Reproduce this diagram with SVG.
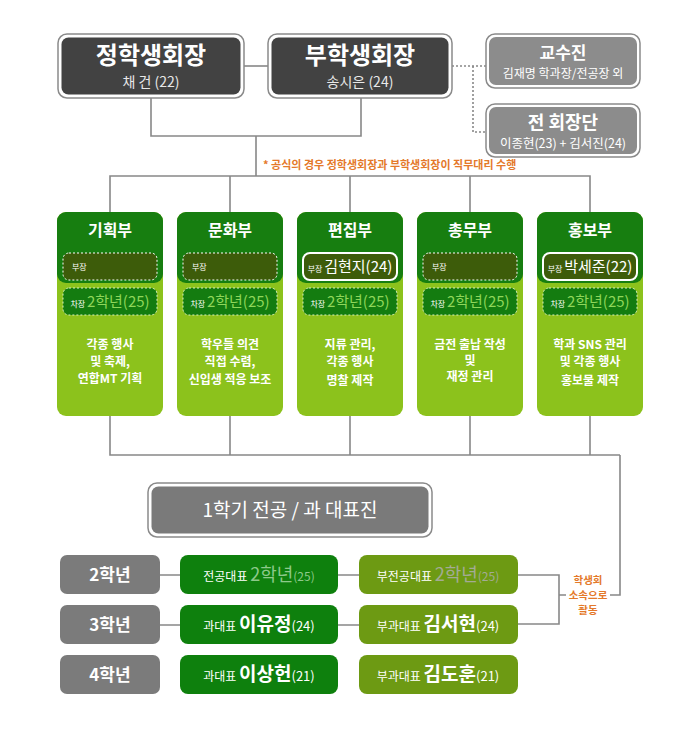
<svg xmlns="http://www.w3.org/2000/svg" width="698" height="754" viewBox="0 0 698 754">
<style>
text{font-family:"Noto Sans CJK KR","Noto Sans",sans-serif;fill:#fff}
.ln{fill:none;stroke:#888;stroke-width:1.6}
.dot{fill:none;stroke:#888;stroke-width:1.6;stroke-dasharray:2 2}
.frame{fill:#fff;stroke:#8a8a8a;stroke-width:1.5}
.dark{fill:#424242}
.grey{fill:#8c8c8c}
.card{fill:#8cc21c}
.head{fill:#177e10}
.bj{fill:#3d5c0a;stroke:#fff;stroke-width:1;stroke-dasharray:2 2}
.bjs{fill:#3d5c0a;stroke:#fff;stroke-width:2}
.cj{fill:#147c10;stroke:#d8f0c0;stroke-width:1;stroke-dasharray:2 2}
.t{font-size:16px;font-weight:700;text-anchor:middle}
.d{font-size:12px;font-weight:700;text-anchor:middle}
.sm{font-size:8px}
.cjv{font-size:15px;fill:#8fd65a}
.or{fill:#e4792a;font-weight:700}
.gr{fill:#7b7b7b}
.g1{fill:#0e800d}
.g2{fill:#6d9a13}
</style>
<g id="connectors">
<path class="ln" d="M244,66H268"/>
<path class="dot" d="M452,66H486M473,66V132H486"/>
<path class="ln" d="M151,98V136H361V98M256,136V176M110,212V176H590V212M230,176V212M350,176V212M470,176V212"/>
<path class="ln" d="M110,416V455H620M230,416V455M350,416V455M470,416V455M590,416V455M620,455V595H610"/>
<path class="ln" d="M160,575H180M338,575H359M160,625H180M338,625H359"/>
<path class="ln" d="M518,575H559V624H518M559,595H566"/>
</g>
<g id="president">
<rect class="frame" x="58" y="34" width="186" height="64" rx="9"/>
<rect class="dark" x="61.5" y="37.5" width="179" height="57" rx="7"/>
<text x="151" y="64" style="font-size:24px;font-weight:700;text-anchor:middle">정학생회장</text>
<text x="151" y="87" style="font-size:14px;text-anchor:middle;fill:#e8e8e8">채 건 (22)</text>
</g>
<g id="vice-president">
<rect class="frame" x="268" y="34" width="184" height="64" rx="9"/>
<rect class="dark" x="271.5" y="37.5" width="177" height="57" rx="7"/>
<text x="360" y="64" style="font-size:24px;font-weight:700;text-anchor:middle">부학생회장</text>
<text x="360" y="87" style="font-size:14px;text-anchor:middle;fill:#e8e8e8">송시은 (24)</text>
</g>
<g id="faculty">
<rect class="frame" x="486" y="34" width="154" height="54" rx="9"/>
<rect class="grey" x="489" y="37" width="148" height="48" rx="7"/>
<text x="563" y="59" style="font-size:17px;font-weight:700;text-anchor:middle">교수진</text>
<text x="563" y="78" style="font-size:12px;text-anchor:middle">김재명 학과장/전공장 외</text>
</g>
<g id="former-presidents">
<rect class="frame" x="486" y="104" width="154" height="53" rx="9"/>
<rect class="grey" x="489" y="107" width="148" height="47" rx="7"/>
<text x="563" y="129" style="font-size:18px;font-weight:700;text-anchor:middle">전 회장단</text>
<text x="563" y="148" style="font-size:12.5px;text-anchor:middle">이종현(23) + 김서진(24)</text>
</g>
<text id="note" x="263" y="169" class="or" style="font-size:11px">* 공식의 경우 정학생회장과 부학생회장이 직무대리 수행</text>

<g id="dept-planning">
<rect class="card" x="57" y="212" width="106" height="204" rx="9"/>
<rect class="head" x="57" y="212" width="106" height="71" rx="9"/>
<text class="t" x="110" y="236">기획부</text>
<rect class="bj" x="63" y="253" width="94" height="27" rx="6"/>
<text class="sm" x="72" y="270">부장</text>
<rect class="cj" x="63" y="288" width="94" height="27" rx="6"/>
<text x="110" y="307" style="text-anchor:middle"><tspan class="sm">차장 </tspan><tspan class="cjv">2학년(25)</tspan></text>
<text class="d" x="110" y="349">각종 행사</text>
<text class="d" x="110" y="366">및 축제,</text>
<text class="d" x="110" y="383">연합MT 기획</text>
</g>
<g id="dept-culture">
<rect class="card" x="177" y="212" width="106" height="204" rx="9"/>
<rect class="head" x="177" y="212" width="106" height="71" rx="9"/>
<text class="t" x="230" y="236">문화부</text>
<rect class="bj" x="183" y="253" width="94" height="27" rx="6"/>
<text class="sm" x="192" y="270">부장</text>
<rect class="cj" x="183" y="288" width="94" height="27" rx="6"/>
<text x="230" y="307" style="text-anchor:middle"><tspan class="sm">차장 </tspan><tspan class="cjv">2학년(25)</tspan></text>
<text class="d" x="230" y="349">학우들 의견</text>
<text class="d" x="230" y="366">직접 수렴,</text>
<text class="d" x="230" y="384">신입생 적응 보조</text>
</g>
<g id="dept-editing">
<rect class="card" x="297" y="212" width="106" height="204" rx="9"/>
<rect class="head" x="297" y="212" width="106" height="71" rx="9"/>
<text class="t" x="350" y="236">편집부</text>
<rect class="bjs" x="303" y="253" width="94" height="27" rx="7"/>
<text x="350" y="272" style="text-anchor:middle"><tspan class="sm">부장 </tspan><tspan style="font-size:15px">김현지(24)</tspan></text>
<rect class="cj" x="303" y="288" width="94" height="27" rx="6"/>
<text x="350" y="307" style="text-anchor:middle"><tspan class="sm">차장 </tspan><tspan class="cjv">2학년(25)</tspan></text>
<text class="d" x="350" y="349">지류 관리,</text>
<text class="d" x="350" y="366">각종 행사</text>
<text class="d" x="350" y="385">명찰 제작</text>
</g>
<g id="dept-general">
<rect class="card" x="417" y="212" width="106" height="204" rx="9"/>
<rect class="head" x="417" y="212" width="106" height="71" rx="9"/>
<text class="t" x="470" y="236">총무부</text>
<rect class="bj" x="423" y="253" width="94" height="27" rx="6"/>
<text class="sm" x="432" y="270">부장</text>
<rect class="cj" x="423" y="288" width="94" height="27" rx="6"/>
<text x="470" y="307" style="text-anchor:middle"><tspan class="sm">차장 </tspan><tspan class="cjv">2학년(25)</tspan></text>
<text class="d" x="470" y="349">금전 출납 작성</text>
<text class="d" x="470" y="365">및</text>
<text class="d" x="470" y="381">재정 관리</text>
</g>
<g id="dept-pr">
<rect class="card" x="537" y="212" width="106" height="204" rx="9"/>
<rect class="head" x="537" y="212" width="106" height="71" rx="9"/>
<text class="t" x="590" y="236">홍보부</text>
<rect class="bjs" x="543" y="253" width="94" height="27" rx="7"/>
<text x="590" y="272" style="text-anchor:middle"><tspan class="sm">부장 </tspan><tspan style="font-size:15px">박세준(22)</tspan></text>
<rect class="cj" x="543" y="288" width="94" height="27" rx="6"/>
<text x="590" y="307" style="text-anchor:middle"><tspan class="sm">차장 </tspan><tspan class="cjv">2학년(25)</tspan></text>
<text class="d" x="590" y="349">학과 SNS 관리</text>
<text class="d" x="590" y="366">및 각종 행사</text>
<text class="d" x="590" y="385">홍보물 제작</text>
</g>

<g id="reps-title">
<rect class="frame" x="148" y="483" width="284" height="54" rx="9"/>
<rect x="151.5" y="486.5" width="277" height="47" rx="7" fill="#7a7a7a"/>
<text x="290" y="517" style="font-size:19px;text-anchor:middle">1학기 전공 / 과 대표진</text>
</g>
<g id="year2">
<rect class="gr" x="60" y="555" width="100" height="39" rx="7"/>
<text x="110" y="581" style="font-size:17px;font-weight:700;text-anchor:middle">2학년</text>
</g>
<g id="year3">
<rect class="gr" x="60" y="605" width="100" height="39" rx="7"/>
<text x="110" y="631" style="font-size:17px;font-weight:700;text-anchor:middle">3학년</text>
</g>
<g id="year4">
<rect class="gr" x="60" y="655" width="100" height="39" rx="7"/>
<text x="110" y="681" style="font-size:17px;font-weight:700;text-anchor:middle">4학년</text>
</g>
<g id="rep-y2">
<rect class="g1" x="180" y="555" width="158" height="39" rx="8"/>
<text x="259" y="581" style="text-anchor:middle"><tspan style="font-size:12px">전공대표 </tspan><tspan style="font-size:18px;fill:#8dc98a">2학년</tspan><tspan style="font-size:12px;fill:#8dc98a">(25)</tspan></text>
</g>
<g id="subrep-y2">
<rect class="g2" x="359" y="555" width="159" height="39" rx="8"/>
<text x="438" y="581" style="text-anchor:middle"><tspan style="font-size:12px">부전공대표 </tspan><tspan style="font-size:18px;fill:#a3ab94">2학년</tspan><tspan style="font-size:12px;fill:#a3ab94">(25)</tspan></text>
</g>
<g id="rep-y3">
<rect class="g1" x="180" y="605" width="158" height="39" rx="8"/>
<text x="259" y="631" style="text-anchor:middle"><tspan style="font-size:12px">과대표 </tspan><tspan style="font-size:19px;font-weight:700">이유정</tspan><tspan style="font-size:13px">(24)</tspan></text>
</g>
<g id="subrep-y3">
<rect class="g2" x="359" y="605" width="159" height="39" rx="8"/>
<text x="438" y="631" style="text-anchor:middle"><tspan style="font-size:12px">부과대표 </tspan><tspan style="font-size:19px;font-weight:700">김서현</tspan><tspan style="font-size:13px">(24)</tspan></text>
</g>
<g id="rep-y4">
<rect class="g1" x="180" y="655" width="158" height="39" rx="8"/>
<text x="259" y="681" style="text-anchor:middle"><tspan style="font-size:12px">과대표 </tspan><tspan style="font-size:19px;font-weight:700">이상헌</tspan><tspan style="font-size:13px">(21)</tspan></text>
</g>
<g id="subrep-y4">
<rect class="g2" x="359" y="655" width="159" height="39" rx="8"/>
<text x="438" y="681" style="text-anchor:middle"><tspan style="font-size:12px">부과대표 </tspan><tspan style="font-size:19px;font-weight:700">김도훈</tspan><tspan style="font-size:13px">(21)</tspan></text>
</g>
<g id="council-note">
<text x="588" y="584" class="or" style="font-size:10.5px;text-anchor:middle">학생회</text>
<text x="588" y="599" class="or" style="font-size:10.5px;text-anchor:middle">소속으로</text>
<text x="588" y="614" class="or" style="font-size:10.5px;text-anchor:middle">활동</text>
</g>
</svg>
